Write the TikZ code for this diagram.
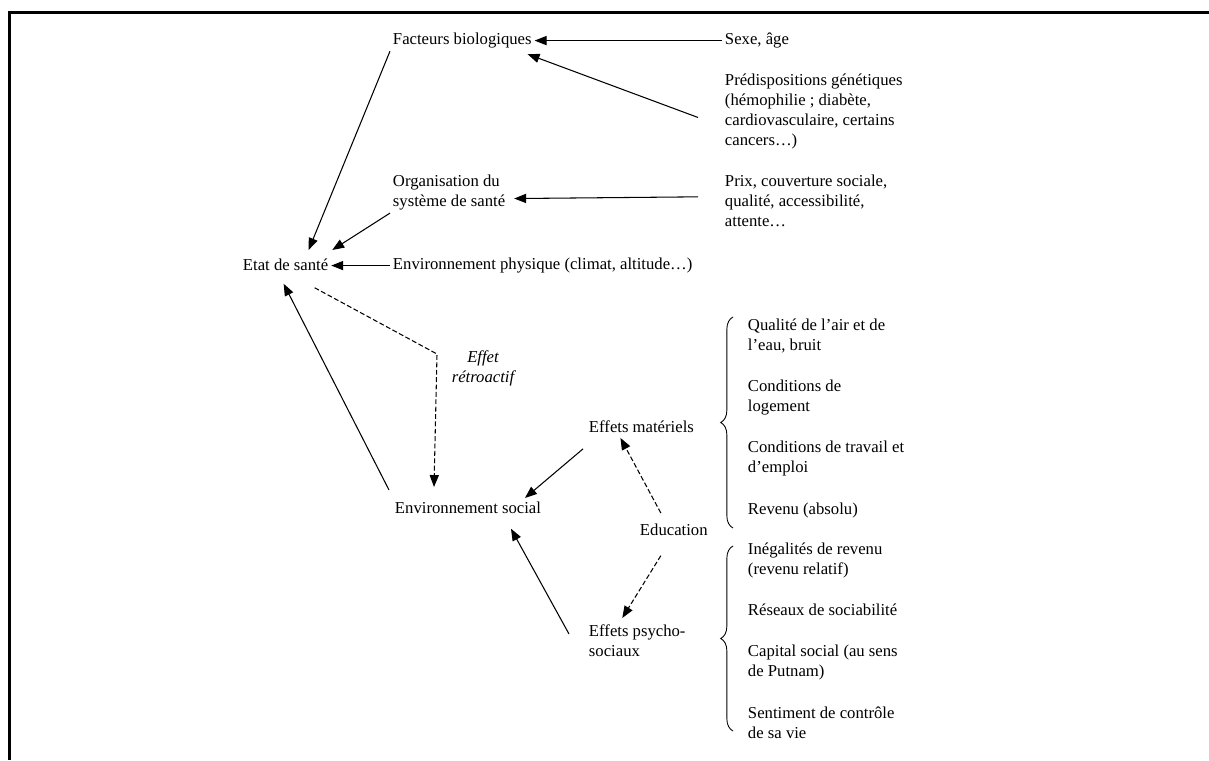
\documentclass[tikz,border=0pt]{standalone}
\usepackage{fontspec}
\setmainfont{Liberation Serif}
\usetikzlibrary{arrows.meta,calc,decorations.pathreplacing}

\tikzset{
  txt/.style={inner sep=1.5pt, font=\fontsize{9.5}{11.35}\selectfont, anchor=north west},
  fleche/.style={-{Triangle[length=6.8pt,width=5.2pt]}, line width=.6pt},
  pointille/.style={fleche, dash pattern=on 2.8pt off 1.4pt},
  accolade/.style={decorate, decoration={brace, amplitude=7pt}, line width=.5pt}
}

\begin{document}
\begin{tikzpicture}[x=.02cm, y=-.02cm]
    \useasboundingbox (0,0) rectangle (1209,760);
    \draw[line width=1.7pt] (9.5,760) -- (9.5,12.5) -- (1209,12.5);

    % facteurs en amont
    \node[txt] (facteurs) at (390,30) {Facteurs biologiques};
    \node[txt] (sexe) at (722,30) {Sexe, âge};
    \node[txt, align=left] (predisp) at (722,71) {Prédispositions génétiques\\(hémophilie ; diabète,\\cardiovasculaire, certains\\cancers…)};
    \node[txt, align=left] (organisation) at (390,172) {Organisation du\\système de santé};
    \node[txt, align=left] (prix) at (722,172) {Prix, couverture sociale,\\qualité, accessibilité,\\attente…};
    \node[txt] (envphys) at (390,255) {Environnement physique (climat, altitude…)};
    \node[txt] (etat) at (240,256) {Etat de santé};

    % environnement social
    \node[txt] (envsocial) at (392,499) {Environnement social};
    \node[txt] (effetsmat) at (586,418) {Effets matériels};
    \node[txt] (education) at (637,521) {Education};
    \node[txt, align=left] (psycho) at (586,622) {Effets psycho-\\sociaux};
    \node[txt, anchor=north, align=center, font=\fontsize{9.5}{11.35}\selectfont\itshape] (effet) at (483,348) {Effet\\rétroactif};

    % listes a droite
    \node[txt, align=left] (air) at (745,316) {Qualité de l’air et de\\l’eau, bruit};
    \node[txt, align=left] (logement) at (745,377) {Conditions de\\logement};
    \node[txt, align=left] (travail) at (745,438) {Conditions de travail et\\d’emploi};
    \node[txt] (revenu) at (745,500) {Revenu (absolu)};
    \node[txt, align=left] (inegal) at (745,540) {Inégalités de revenu\\(revenu relatif)};
    \node[txt] (reseaux) at (745,601) {Réseaux de sociabilité};
    \node[txt, align=left] (capital) at (745,642) {Capital social (au sens\\de Putnam)};
    \node[txt, align=left] (controle) at (745,704) {Sentiment de contrôle\\de sa vie};

    \draw[accolade] (733,528) -- (733,317);
    \draw[accolade] (733,731) -- (733,546);

    \draw[fleche] (sexe.west) -- (sexe.west -| facteurs.east);
    \draw[fleche] ($(predisp.west)+(-24,6)$) -- ($(facteurs.south east)+(-7,3)$);
    \draw[fleche] ($(prix.west)+(-24,-4)$) -- ($(organisation.east)+(6,6)$);
    \draw[fleche] (envphys.west) -- (envphys.west -| etat.east);
    \draw[fleche] (facteurs.south west) -- ($(etat.north)+(23,-6)$);
    \draw[fleche] (organisation.south west) -- ($(etat.north east)+(1,-6)$);
    \draw[fleche] ($(envsocial.north west)+(-3,-9)$) -- ($(etat.south)+(-2,10)$);

    \coordinate (coude) at (437,354);
    \draw[pointille] ($(etat.south)+(29,14)$) -- (coude) -- ($(envsocial.north)+(-34,-12)$);

    \draw[fleche] ($(effetsmat.south west)+(-3,13)$) -- ($(envsocial.north east)+(-19,-1)$);
    \draw[fleche] ($(psycho.north west)+(-17,12)$) -- ($(envsocial.south east)+(-33,12)$);
    \draw[pointille] ($(education.north)+(-13,-8)$) -- ($(effetsmat.south)+(-21,2)$);
    \draw[pointille] ($(education.south)+(-13,17)$) -- ($(psycho.north)+(-15,-4)$);
\end{tikzpicture}
\end{document}
